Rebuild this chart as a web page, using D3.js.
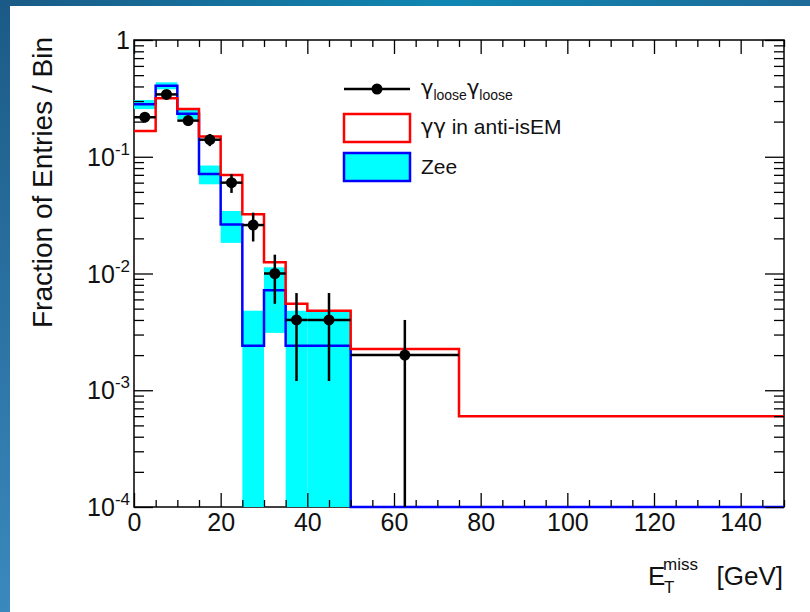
<!DOCTYPE html>
<html>
<head>
<meta charset="utf-8">
<script src="https://cdn.jsdelivr.net/npm/d3@7"></script>
<style>
  body { margin: 0; background: #fff; }
  svg text { font-family: "Liberation Sans", Arial, sans-serif; fill: #111; }
  svg .greek { font-family: "DejaVu Sans", sans-serif; }
</style>
</head>
<body>
<div class="container"></div>
<script>
// bin edges in GeV (variable width bins)
var binEdges = [0, 5, 10, 15, 20, 25, 30, 35, 40, 50, 75, 150];

// gamma_loose gamma_loose data, fraction per bin and its error
var looseVals = [0.218, 0.342, 0.204, 0.140, 0.060, 0.026, 0.010, 0.004, 0.004, 0.002, 0];
var looseErrs = [0.021, 0.026, 0.020, 0.0167, 0.011, 0.0072, 0.0045, 0.0028, 0.0028, 0.002, 0];

// gamma gamma in anti-isEM
var antiVals = [0.166, 0.317, 0.256, 0.149, 0.0698, 0.0321, 0.0125, 0.0055, 0.0048, 0.00226, 0.0006];

// Zee with its error band
var zeeVals = [0.281, 0.406, 0.233, 0.0711, 0.0263, 0.0024, 0.0072, 0.0024, 0.0024, 0, 0];
var zeeErrs = [0.025, 0.028, 0.024, 0.013, 0.0080, 0.0024, 0.0041, 0.0024, 0.0024, 0, 0];

var xTicks = [0, 20, 40, 60, 80, 100, 120, 140];
var yDecades = [-4, -3, -2, -1, 0];

var W = 810, H = 612;
var x0 = 134, x1 = 784, y0 = 40, y1 = 507;
var ymin = 1e-4;

var svg = d3.select('.container')
.append('svg')
.attr('width', W)
.attr('height', H);

// slide background
var defs = svg.append('defs');
var gTop = defs.append('linearGradient').attr('id', 'gtop');
gTop.append('stop').attr('offset', '0%').attr('stop-color', '#1b5a86');
gTop.append('stop').attr('offset', '55%').attr('stop-color', '#0f87b2');
gTop.append('stop').attr('offset', '100%').attr('stop-color', '#1e6a98');
var gLeft = defs.append('linearGradient').attr('id', 'gleft')
.attr('x1', 0).attr('y1', 0).attr('x2', 0).attr('y2', 1);
gLeft.append('stop').attr('offset', '0%').attr('stop-color', '#1b5a86');
gLeft.append('stop').attr('offset', '100%').attr('stop-color', '#3a89bd');

svg.append('rect').attr('width', W).attr('height', H).attr('fill', 'url(#gleft)');
svg.append('rect').attr('width', W).attr('height', 6).attr('fill', 'url(#gtop)');
svg.append('rect').attr('x', 10).attr('y', 6).attr('width', W - 10).attr('height', H - 6).attr('fill', '#fff');

var x = d3.scaleLinear().domain([0, 150]).range([x0, x1]);
var y = d3.scaleLog().domain([ymin, 1]).range([y1, y0]);

function yc(v) {
	return v <= ymin ? y1 : Math.max(y0, y(v));
}

// step outline of a histogram (no closing verticals at the ends)
function stepPath(vals) {
	var pts = [];
	vals.forEach(function (v, i) {
		pts.push([x(binEdges[i]), yc(v)]);
		pts.push([x(binEdges[i + 1]), yc(v)]);
	});
	return d3.line()(pts);
}

// frame first, the histograms may cover it
svg.append('rect')
.attr('x', x0).attr('y', y0)
.attr('width', x1 - x0).attr('height', y1 - y0)
.attr('fill', 'none').attr('stroke', '#000').attr('stroke-width', 1.5);

// Zee error band
zeeVals.forEach(function (v, i) {
	if (v <= 0) return;
	var top = yc(v + zeeErrs[i]);
	var bot = yc(v - zeeErrs[i]);
	svg.append('rect')
	.attr('x', x(binEdges[i]))
	.attr('y', top)
	.attr('width', x(binEdges[i + 1]) - x(binEdges[i]))
	.attr('height', bot - top)
	.attr('fill', '#00ffff');
});

svg.append('path')
.attr('d', stepPath(zeeVals))
.attr('fill', 'none')
.attr('stroke', '#0000ff')
.attr('stroke-width', 2.5);

svg.append('path')
.attr('d', stepPath(antiVals))
.attr('fill', 'none')
.attr('stroke', '#ff0000')
.attr('stroke-width', 2.5);

// x ticks, inward on bottom and top
var xMinor = d3.range(0, 151, 5).filter(function (d) { return d % 20 !== 0; });
var axB = svg.append('g').attr('transform', 'translate(0,' + y1 + ')')
.call(d3.axisBottom(x).tickValues(xTicks).tickSize(-14).tickPadding(6).tickFormat(d3.format('d')));
axB.select('.domain').remove();
axB.selectAll('text').attr('font-size', 25).attr('dy', '0.71em');
svg.append('g').attr('transform', 'translate(0,' + y1 + ')')
.call(d3.axisBottom(x).tickValues(xMinor).tickSize(-7).tickFormat(''))
.select('.domain').remove();
svg.append('g').attr('transform', 'translate(0,' + y0 + ')')
.call(d3.axisTop(x).tickValues(xTicks).tickSize(-14).tickFormat(''))
.select('.domain').remove();
svg.append('g').attr('transform', 'translate(0,' + y0 + ')')
.call(d3.axisTop(x).tickValues(xMinor).tickSize(-7).tickFormat(''))
.select('.domain').remove();

// y ticks, inward on left and right
var yMajor = yDecades.map(function (e) { return Math.pow(10, e); });
var yMinor = [];
yDecades.slice(0, -1).forEach(function (e) {
	for (var k = 2; k <= 9; k++) yMinor.push(k * Math.pow(10, e));
});
[[d3.axisLeft, x0], [d3.axisRight, x1]].forEach(function (a) {
	svg.append('g').attr('transform', 'translate(' + a[1] + ',0)')
	.call(a[0](y).tickValues(yMajor).tickSize(-19).tickFormat(''))
	.select('.domain').remove();
	svg.append('g').attr('transform', 'translate(' + a[1] + ',0)')
	.call(a[0](y).tickValues(yMinor).tickSize(-10).tickFormat(''))
	.select('.domain').remove();
});
svg.selectAll('.tick line').attr('stroke', '#000').attr('stroke-width', 1.3);

// y labels with exponents
yDecades.forEach(function (e) {
	var t = svg.append('text')
	.attr('x', 130)
	.attr('y', y(Math.pow(10, e)) + 9)
	.attr('text-anchor', 'end')
	.attr('font-size', 25);
	if (e === 0) {
		t.text('1');
	} else {
		t.append('tspan').text('10');
		t.append('tspan').attr('font-size', 17).attr('dy', -11).text(String(e));
	}
});

// data points
var pts = svg.append('g');
looseVals.forEach(function (v, i) {
	if (v <= 0) return;
	var cx = x((binEdges[i] + binEdges[i + 1]) / 2);
	pts.append('line')
	.attr('x1', x(binEdges[i])).attr('x2', x(binEdges[i + 1]))
	.attr('y1', y(v)).attr('y2', y(v))
	.attr('stroke', '#000').attr('stroke-width', 2.5);
	pts.append('line')
	.attr('x1', cx).attr('x2', cx)
	.attr('y1', yc(v + looseErrs[i])).attr('y2', yc(v - looseErrs[i]))
	.attr('stroke', '#000').attr('stroke-width', 2.5);
	pts.append('circle')
	.attr('cx', cx).attr('cy', y(v)).attr('r', 5.5)
	.attr('fill', '#000');
});

// legend
var lg = svg.append('g');
lg.append('line').attr('x1', 344).attr('x2', 410).attr('y1', 89).attr('y2', 89)
.attr('stroke', '#000').attr('stroke-width', 2.5);
lg.append('circle').attr('cx', 377).attr('cy', 89).attr('r', 5.5).attr('fill', '#000');
var t1 = lg.append('text').attr('x', 421).attr('y', 95).attr('font-size', 21);
t1.append('tspan').attr('class', 'greek').text('γ');
t1.append('tspan').attr('font-size', 14).attr('dy', 5).text('loose');
t1.append('tspan').attr('class', 'greek').attr('dy', -5).text('γ');
t1.append('tspan').attr('font-size', 14).attr('dy', 5).text('loose');

lg.append('rect').attr('x', 344).attr('y', 114).attr('width', 66).attr('height', 28)
.attr('fill', '#fff').attr('stroke', '#ff0000').attr('stroke-width', 2.5);
var t2 = lg.append('text').attr('x', 421).attr('y', 134).attr('font-size', 21);
t2.append('tspan').attr('class', 'greek').text('γγ');
t2.append('tspan').text(' in anti-isEM');

lg.append('rect').attr('x', 344).attr('y', 153).attr('width', 66).attr('height', 28)
.attr('fill', '#00ffff').attr('stroke', '#0000ff').attr('stroke-width', 2.5);
lg.append('text').attr('x', 421).attr('y', 174).attr('font-size', 21).text('Zee');

// axis titles
var xt = svg.append('g');
xt.append('text').attr('x', 783).attr('y', 585).attr('text-anchor', 'end').attr('font-size', 26).text('[GeV]');
xt.append('text').attr('x', 648).attr('y', 585).attr('font-size', 26).text('E');
xt.append('text').attr('x', 664).attr('y', 593).attr('font-size', 17).text('T');
xt.append('text').attr('x', 663).attr('y', 570).attr('font-size', 17).text('miss');

svg.append('text')
.attr('transform', 'translate(52,37) rotate(-90)')
.attr('text-anchor', 'end')
.attr('font-size', 28)
.text('Fraction of Entries / Bin');
</script>
</body>
</html>
